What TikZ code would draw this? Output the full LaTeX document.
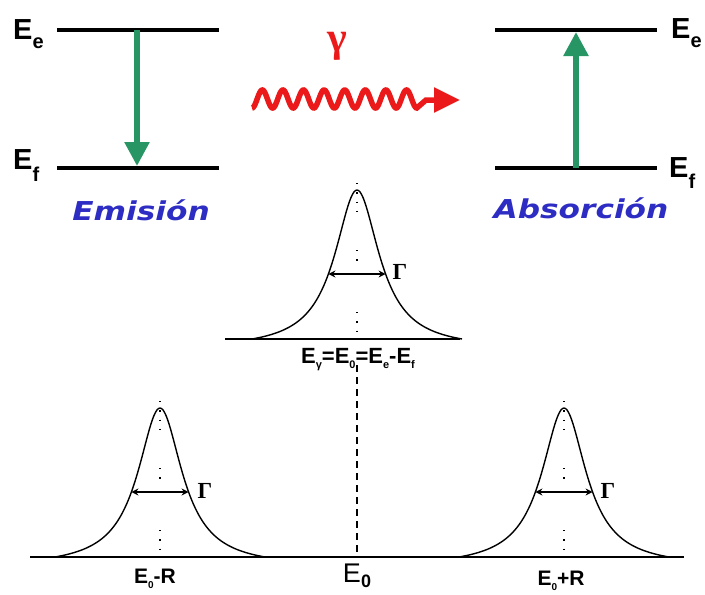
\documentclass[tikz,border=0pt]{standalone}
\usepackage{fontspec}
\setmainfont{Liberation Sans}
\newfontfamily\blfont[FakeStretch=1.2]{DejaVu Sans}
\newfontfamily\greekfont{Liberation Serif}
\usetikzlibrary{arrows.meta}
\definecolor{lvgreen}{RGB}{40,150,100}
\definecolor{lblue}{RGB}{45,45,195}
\definecolor{pred}{RGB}{235,25,25}
% #1 main size, #2 sub size, #3 drop, #4 subscript
\newcommand\Elab[4]{\fontsize{#1}{#1}\selectfont\bfseries E\raisebox{-#3}{\fontsize{#2}{#2}\selectfont #4}}
\newcommand\sbx[3]{\raisebox{-#2}{\fontsize{#1}{#1}\selectfont #3}}
\newcommand\mypeak[2]{%
  \draw[curve] plot[domain=-105:105,samples=141,smooth] ({#1+\x},{#2-149*(1/(1+(\x/27)^2)-0.062)/0.938});
}
\begin{document}
\begin{tikzpicture}[x=1pt,y=-1pt,
  level/.style={line width=4.5pt},
  trans/.style={draw=lvgreen,line width=5.5pt,-{Triangle[length=24pt,width=24pt]}},
  curve/.style={line width=1.4pt},
  base/.style={line width=1.8pt},
  fwhm/.style={line width=1.5pt,{Stealth[length=7pt,width=7pt]}-{Stealth[length=7pt,width=7pt]}},
  dots/.style={line width=1.3pt,dash pattern=on 1.3pt off 8pt},
  lab/.style={inner sep=0pt},
  gam/.style={inner sep=0pt,font=\greekfont\bfseries\fontsize{23}{23}\selectfont},
]
\useasboundingbox (0,0) rectangle (705,595);

% ---- Emission levels
\coordinate (le1) at (57,30); \coordinate (le2) at (219,30);
\coordinate (lf1) at (57,168); \coordinate (lf2) at (219,168);
\draw[level] (le1) -- (le2);
\draw[level] (lf1) -- (lf2);
\coordinate (emtop) at (137,30); \coordinate (embot) at (137,166);
\draw[trans] (emtop) -- (embot);
\node[lab,anchor=base west] (Eel) at (13,39) {\Elab{29}{20}{9pt}{e}};
\node[lab,anchor=base west] (Efl) at (13,169) {\Elab{29}{20}{12pt}{f}};
\node[lab,text=lblue] (emi) at (141,210) {\blfont\bfseries\itshape\fontsize{26}{26}\selectfont Emisión};

% ---- Absorption levels
\coordinate (re1) at (495,30); \coordinate (re2) at (657,30);
\coordinate (rf1) at (495,168); \coordinate (rf2) at (657,168);
\draw[level] (re1) -- (re2);
\draw[level] (rf1) -- (rf2);
\coordinate (abbot) at (576,168); \coordinate (abtop) at (576,32);
\draw[trans] (abbot) -- (abtop);
\node[lab,anchor=base west] (Eer) at (671,38) {\Elab{29}{20}{9pt}{e}};
\node[lab,anchor=base west] (Efr) at (669,177) {\Elab{29}{20}{11pt}{f}};
\node[lab,text=lblue] (abs) at (581,208) {\blfont\bfseries\itshape\fontsize{26}{26}\selectfont Absorción};

% ---- photon
\node[lab,text=pred] (gamma) at (337,46) {\greekfont\bfseries\fontsize{42}{42}\selectfont γ};
\coordinate (wend) at (460,100);
\draw[pred,line width=5.5pt,-{Triangle[length=26pt,width=24pt]}]
  plot[domain=0:164.8,samples=240] ({252+\x},{99+9*cos(\x*17.4757)}) -- (426,100) -- (wend);

% ---- central peak
\coordinate (cb1) at (225,339); \coordinate (cb2) at (460,339);
\draw[base] (cb1) -- (cb2);
\mypeak{357}{339}
\coordinate (ca1) at (328.4,274); \coordinate (ca2) at (385.6,274);
\draw[fwhm] (ca1) -- (ca2);
\node[gam] (gc) at (400,272) {Γ};
\draw[dots] (357,183) -- (357,216);
\draw[dots] (357,250) -- (357,267);
\draw[dots] (357,312) -- (357,334);
\node[lab,anchor=base] (Ecen) at (358,363) {\fontsize{22}{22}\selectfont\bfseries E\sbx{11}{5pt}{γ}=E\sbx{11}{5pt}{0}=E\sbx{11}{5pt}{e}-E\sbx{11}{5pt}{f}};

% ---- dashed E0 line and bottom axis
\coordinate (d1) at (357,365); \coordinate (d2) at (357,557);
\draw[line width=1.5pt,dash pattern=on 7pt off 5pt] (d1) -- (d2);
\coordinate (ax1) at (30,557); \coordinate (ax2) at (684,557);
\draw[base] (ax1) -- (ax2);
\node[lab,anchor=base] (E0) at (357,582) {\fontsize{27}{27}\selectfont E\sbx{18}{5pt}{\bfseries 0}};

% ---- left peak
\mypeak{160}{557}
\coordinate (la1) at (131.4,492); \coordinate (la2) at (188.6,492);
\draw[fwhm] (la1) -- (la2);
\node[gam] (gl) at (205,491) {Γ};
\draw[dots] (160,401) -- (160,434);
\draw[dots] (160,468) -- (160,485);
\draw[dots] (160,530) -- (160,552);
\node[lab,anchor=base] (Em) at (155,583) {\fontsize{21}{21}\selectfont\bfseries E\sbx{10}{5pt}{0}-R};

% ---- right peak
\mypeak{564}{557}
\coordinate (ra1) at (535.4,492); \coordinate (ra2) at (592.6,492);
\draw[fwhm] (ra1) -- (ra2);
\node[gam] (gr) at (608,491) {Γ};
\draw[dots] (564,401) -- (564,434);
\draw[dots] (564,468) -- (564,485);
\draw[dots] (564,530) -- (564,552);
\node[lab,anchor=base] (Ep) at (561,585) {\fontsize{21}{21}\selectfont\bfseries E\sbx{10}{5pt}{0}+R};
\end{tikzpicture}
\end{document}
